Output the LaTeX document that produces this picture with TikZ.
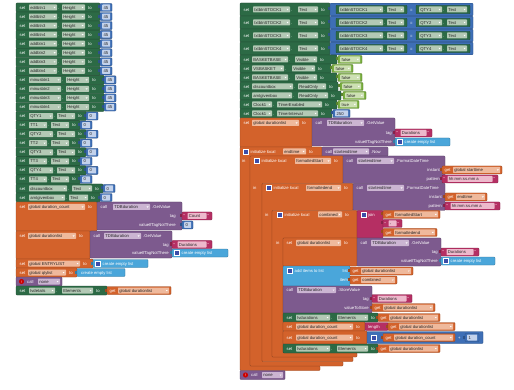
\documentclass[tikz,border=0pt]{standalone}
\usepackage{fontspec}
\setmainfont{Liberation Sans}
\definecolor{cg}{HTML}{2C6A45}
\definecolor{cgf}{HTML}{B3C9B5}
\definecolor{vo}{HTML}{D3622B}
\definecolor{vof}{HTML}{EFB99C}
\definecolor{pp}{HTML}{7D5A8E}
\definecolor{ppf}{HTML}{CBB5D2}
\definecolor{pk}{HTML}{B52F63}
\definecolor{pkf}{HTML}{EDB9CC}
\definecolor{mb}{HTML}{3E6FB6}
\definecolor{mbf}{HTML}{C3D2EB}
\definecolor{lb}{HTML}{4AA6DA}
\definecolor{lg}{HTML}{79AE3F}
\definecolor{lgf}{HTML}{CDE0B4}
\definecolor{ic}{HTML}{3C4DA8}
\newcommand\zfont{\fontsize{4.2}{4.2}\selectfont}
\tikzset{
 lbl/.style={text=white,font=\zfont,inner sep=0pt,anchor=west,text height=3.1pt,text depth=0pt},
 ftx/.style={text=black!85,font=\zfont,inner sep=0pt,anchor=west,text height=3.1pt,text depth=0pt}}
\def\zh{4.5}
% block
\newcommand\ZB[5]{\filldraw[fill=#1,draw=#1!70!black,line width=0.3pt,rounded corners=0.8pt] (#2,#3) rectangle (#4,#5);}
% labels
\newcommand\ZL[3]{\node[lbl] at (#1,#2) {#3};}
\newcommand\ZR[3]{\node[lbl,anchor=east] at (#1,#2) {#3};}
% fields
\newcommand\ZF[5]{\fill[#1,rounded corners=0.6pt] (#2,#4-3) rectangle (#3,#4+3);\node[ftx] at (#2+1.2,#4) {#5};\fill[white] (#3-3.4,#4-0.5) -- (#3-1.4,#4-0.5) -- (#3-2.4,#4+0.7) -- cycle;}
\newcommand\ZFn[5]{\fill[#1,rounded corners=0.6pt] (#2,#4-3) rectangle (#3,#4+3);\node[ftx] at (#2+1.2,#4) {#5};}
% icon
\newcommand\ZIc[2]{\filldraw[fill=ic,draw=white,line width=0.35pt] (#1,#2-2.4) rectangle (#1+4.8,#2+2.4);}
% green setter: y, x0, xend, c1, c2, ctext, p1, p2, ptext
\newcommand\ZG[9]{\ZB{cg}{#2}{#1-\zh}{#3}{#1+\zh}\ZL{#2+3.5}{#1}{set}\ZF{cgf}{#4}{#5}{#1}{#6}\ZL{#5+1}{#1}{.}\ZF{cgf}{#7}{#8}{#1}{#9}\ZL{#8+3}{#1}{to}}
% orange setter: y1,y2,x0,xend,f1,f2,ftext,yc
\newcommand\ZO[8]{\ZB{vo}{#3}{#1}{#4}{#2}\ZL{#3+3.5}{#8}{set}\ZF{vof}{#5}{#6}{#8}{#7}\ZL{#6+3}{#8}{to}}
% purple call: y1,y2,x0,xend,f1,f2,ftext,method,yc
\newcommand\ZP[9]{\ZB{pp}{#3}{#1}{#4}{#2}\ZL{#3+3.5}{#9}{call}\ZF{ppf}{#5}{#6}{#9}{#7}\ZL{#6+2}{#9}{#8}}
% initialize C shape
\newcommand\ZI[8]{\filldraw[fill=vo,draw=vo!70!black,line width=0.3pt,rounded corners=0.8pt] (#1,#3) -- (#2,#3) -- (#2,#4) -- (#5,#4) -- (#5,#6) -- (#7,#6) -- (#7,#8) -- (#1,#8) -- cycle;}
% value blocks
\newcommand\ZN[4]{\fill[mb!75!black] (#1-1.8,#3-2) rectangle (#1+0.5,#3+1);\ZB{mb}{#1}{#3-4}{#2}{#3+4}\ZFn{mbf}{#1+2.2}{#2-1.8}{#3}{#4}}
\newcommand\ZBo[4]{\fill[lg!75!black] (#1-1.8,#3-2) rectangle (#1+0.5,#3+1);\ZB{lg}{#1}{#3-4}{#2}{#3+4}\ZF{lgf}{#1+2.2}{#2-1.8}{#3}{#4}}
\newcommand\ZT[4]{\fill[pk!75!black] (#1-1.8,#3-2) rectangle (#1+0.5,#3+1);\ZB{pk}{#1}{#3-4}{#2}{#3+4}\node[lbl] at (#1+1.3,#3) {“};\ZFn{pkf}{#1+5.5}{#2-5.5}{#3}{#4}\node[lbl] at (#2-4.6,#3) {”};}
\newcommand\ZGet[4]{\fill[vo!75!black] (#1-1.8,#3-2) rectangle (#1+0.5,#3+1);\ZB{vo}{#1}{#3-4}{#2}{#3+4}\ZL{#1+2.5}{#3}{get}\ZF{vof}{#1+11}{#2-1.8}{#3}{#4}}
\newcommand\ZLst[3]{\fill[lb!75!black] (#1-1.8,#3-2) rectangle (#1+0.5,#3+1);\ZB{lb}{#1}{#3-4}{#2}{#3+4}\ZIc{#1+2.5}{#3}\ZL{#1+9.5}{#3}{create empty list}}
\newcommand\ZLstn[3]{\fill[lb!75!black] (#1-1.8,#3-2) rectangle (#1+0.5,#3+1);\ZB{lb}{#1}{#3-4}{#2}{#3+4}\ZL{#1+4}{#3}{create empty list}}
% compare row (right column): y, n
\newcommand\ZCmp[2]{%
 \ZG{#1}{240}{330}{253}{290}{txtbtnSTOCK#2}{298}{318}{Text}
 \fill[mb!75!black] (328.2,#1-2) rectangle (330.5,#1+1);
 \ZB{mb}{330}{#1-6.3}{473}{#1+6.3}
 \ZB{cg}{336}{#1-4.2}{407}{#1+4.2}
 \ZF{cgf}{339}{383}{#1}{txtbtnSTOCK#2}\ZL{384}{#1}{.}\ZF{cgf}{387}{404}{#1}{Text}
 \ZL{410}{#1}{=}
 \ZB{cg}{416}{#1-4.2}{470}{#1+4.2}
 \ZF{cgf}{419}{442}{#1}{QTY#2}\ZL{443}{#1}{.}\ZF{cgf}{447}{467}{#1}{Text}}
\begin{document}
\begin{tikzpicture}[x=1pt,y=-1pt]
\fill[white] (0,0) rectangle (514,390);
\useasboundingbox (0,0) rectangle (514,390);
% ---------------- left column ----------------
\ZG{7.5}{16}{100}{29}{57}{editbtn1}{62}{85}{Height}\ZN{100}{112}{7.5}{45}
\ZG{16.55}{16}{100}{29}{57}{editbtn2}{62}{85}{Height}\ZN{100}{112}{16.55}{45}
\ZG{25.6}{16}{100}{29}{57}{editbtn3}{62}{85}{Height}\ZN{100}{112}{25.6}{45}
\ZG{34.65}{16}{100}{29}{57}{editbtn4}{62}{85}{Height}\ZN{100}{112}{34.65}{45}
\ZG{43.7}{16}{100}{29}{57}{addbtn1}{62}{85}{Height}\ZN{100}{112}{43.7}{45}
\ZG{52.75}{16}{100}{29}{57}{addbtn2}{62}{85}{Height}\ZN{100}{112}{52.75}{45}
\ZG{61.8}{16}{100}{29}{57}{addbtn3}{62}{85}{Height}\ZN{100}{112}{61.8}{45}
\ZG{70.85}{16}{100}{29}{57}{addbtn4}{62}{85}{Height}\ZN{100}{112}{70.85}{45}
\ZG{79.9}{16}{104}{29}{61}{minusbtn1}{66}{89}{Height}\ZN{104}{116}{79.9}{45}
\ZG{88.95}{16}{104}{29}{61}{minusbtn2}{66}{89}{Height}\ZN{104}{116}{88.95}{45}
\ZG{98}{16}{104}{29}{61}{minusbtn3}{66}{89}{Height}\ZN{104}{116}{98}{45}
\ZG{107.05}{16}{104}{29}{61}{minusbtn4}{66}{89}{Height}\ZN{104}{116}{107.05}{45}
\ZG{116.1}{16}{86}{29}{53}{QTY1}{57}{75}{Text}\ZN{86}{98}{116.1}{0}
\ZG{125.15}{16}{80}{29}{47}{TT1}{51}{69}{Text}\ZN{80}{92}{125.15}{0}
\ZG{134.2}{16}{86}{29}{53}{QTY2}{57}{75}{Text}\ZN{86}{98}{134.2}{0}
\ZG{143.25}{16}{80}{29}{47}{TT2}{51}{69}{Text}\ZN{80}{92}{143.25}{0}
\ZG{152.3}{16}{86}{29}{53}{QTY3}{57}{75}{Text}\ZN{86}{98}{152.3}{0}
\ZG{161.35}{16}{80}{29}{47}{TT3}{51}{69}{Text}\ZN{80}{92}{161.35}{0}
\ZG{170.4}{16}{86}{29}{53}{QTY4}{57}{75}{Text}\ZN{86}{98}{170.4}{0}
\ZG{179.45}{16}{80}{29}{47}{TT4}{51}{69}{Text}\ZN{80}{92}{179.45}{0}
\ZG{188.5}{16}{103}{29}{67}{discountbox}{72}{92}{Text}\ZN{103}{115}{188.5}{0}
\ZG{197.55}{16}{100}{29}{65}{amtgivenbox}{69}{88}{Text}\ZN{100}{112}{197.55}{0}
% set global duration_count
\ZO{202}{231}{16}{97}{28}{85}{global duration\_count}{207}
\ZP{202}{230}{97}{182}{113}{150}{TDBduration}{.GetValue}{207}
\ZR{176}{216}{tag}\ZT{182}{212}{216}{Count}
\ZR{176}{225}{valueIfTagNotThere}\ZN{182}{193}{225}{0}
% set global durationlist
\ZO{231}{259}{16}{90}{28}{76}{global durationlist}{236}
\ZP{231}{258}{90}{172}{104}{141}{TDBduration}{.GetValue}{236}
\ZR{169}{244.5}{tag}\ZT{172}{212}{244.5}{Durations}
\ZR{169}{253}{valueIfTagNotThere}\ZLst{172}{228}{253}
% ENTRYLIST / qtylist
\ZO{259}{268}{16}{93}{28}{80}{global ENTRYLIST}{263.5}\ZLst{93}{148}{263.5}
\ZO{268}{277}{16}{77}{28}{66}{global qtylist}{272.5}\ZLstn{77}{125}{272.5}
% call none
\ZB{pp}{16}{277}{62}{286}
\fill[red!80!black] (21.5,281.5) circle (2.6);\node[lbl,anchor=center,font=\fontsize{3.5}{3.5}\selectfont] at (21.5,281.5) {!};
\ZL{27}{281.5}{call}\ZF{ppf}{38}{60}{281.5}{none}
% lvdetails
\ZG{290.5}{16}{107}{29}{55}{lvdetails}{62}{93}{Elements}\ZGet{107}{171}{290.5}{global durationlist}
% ---------------- right column ----------------
\def\zh{6.5}
\ZCmp{9.5}{1}
\ZCmp{22.5}{2}
\ZCmp{35.5}{3}
\ZCmp{48.5}{4}
\def\zh{4.5}
\ZG{59.5}{240}{337}{252}{288}{BASKETBASE}{295}{317}{Visible}\ZBo{338}{362}{59.5}{false}
\ZG{68.5}{240}{331}{252}{284}{VSBASKET}{292}{315}{Visible}\ZBo{332}{353}{68.5}{false}
\ZG{77.5}{240}{337}{252}{288}{BASKETBASE}{295}{317}{Visible}\ZBo{338}{362}{77.5}{false}
\ZG{86.5}{240}{338}{252}{293}{discountbox}{298}{326}{ReadOnly}\ZBo{340}{363}{86.5}{false}
\ZG{95.5}{240}{341}{252}{292}{amtgivenbox}{298}{328}{ReadOnly}\ZBo{343}{366}{95.5}{false}
\ZG{104.5}{240}{337}{252}{272}{Clock1}{277}{322}{TimerEnabled}\ZBo{338}{359}{104.5}{true}
\ZG{113.5}{240}{332}{252}{272}{Clock1}{277}{318}{TimerInterval}\ZN{333}{350}{113.5}{250}
% set global durationlist
\ZO{118}{147}{240}{312}{252}{299}{global durationlist}{123}
\ZP{118}{146}{312}{395}{327}{364}{TDBduration}{.GetValue}{123}
\ZR{392}{133}{tag}\ZT{395}{432}{133}{Durations}
\ZR{392}{142}{valueIfTagNotThere}\ZLst{395}{450}{142}
% initialize endtime
\ZI{240}{322}{147}{156}{250}{366}{320}{370.5}
\ZIc{243}{151.5}\ZL{250.5}{151.5}{initialize local}\ZF{vof}{283}{306}{151.5}{endtime}\ZL{309}{151.5}{to}
\ZP{147}{156}{322}{388}{333}{369}{startendtime}{.Now}{151.5}
\ZL{242}{160.5}{in}
% initialize formattedStart
\ZI{250}{343}{156}{183.5}{262}{361.5}{343}{366}
\ZIc{254}{161}\ZL{261.5}{161}{initialize local}\ZF{vof}{295}{331}{161}{formattedStart}\ZL{334}{161}{to}
\ZP{156}{183.5}{343}{445}{357}{394}{startendtime}{.FormatDateTime}{161}
\ZR{440}{170}{instant}\ZGet{442}{502}{170}{global starttime}
\ZR{440}{179}{pattern}\ZT{442}{498}{179}{hh:mm:ss.mm a}
\ZL{253}{188}{in}
% initialize formattedend
\ZI{262}{353}{183.5}{210.5}{272}{357}{353}{361.5}
\ZIc{266}{188}\ZL{273.5}{188}{initialize local}\ZF{vof}{306}{341}{188}{formattedend}\ZL{344}{188}{to}
\ZP{183.5}{210.5}{353}{445}{367}{404}{startendtime}{.FormatDateTime}{188}
\ZR{442}{197}{instant}\ZGet{445}{487}{197}{endtime}
\ZR{442}{206}{pattern}\ZT{445}{500}{206}{hh:mm:ss.mm a}
\ZL{265}{215}{in}
% initialize combined
\ZI{272}{357}{210.5}{238}{283}{352.5}{357}{357}
\ZIc{277}{214.5}\ZL{284.5}{214.5}{initialize local}\ZF{vof}{318}{342}{214.5}{combined}\ZL{345}{214.5}{to}
\ZB{pk}{357}{210.5}{383}{238}
\ZIc{361}{214.5}\ZL{368}{214.5}{join}
\ZGet{383}{440}{214.5}{formattedStart}
\ZT{383}{402}{223.5}{-}
\ZGet{383}{437}{232.5}{formattedend}
\ZL{276}{243}{in}
% statements
\ZO{238}{266}{283}{357}{296}{341}{global durationlist}{243}
\ZP{238}{266}{357}{441}{371}{409}{TDBduration}{.GetValue}{243}
\ZR{438}{252}{tag}\ZT{441}{479}{252}{Durations}
\ZR{438}{261}{valueIfTagNotThere}\ZLst{441}{495}{261}
\ZB{lb}{283}{266}{350}{286}
\ZIc{287}{271}\ZL{294.5}{271}{add items to list}\ZR{348}{271}{list}\ZR{348}{280}{item}
\ZGet{350}{413}{271}{global durationlist}
\ZGet{350}{397}{280}{combined}
\ZP{286}{313}{283}{372}{297}{336}{TDBduration}{.StoreValue}{290}
\ZR{369}{298.5}{tag}\ZT{372}{412}{298.5}{Durations}
\ZR{369}{307.5}{valueToStore}\ZGet{372}{435}{307.5}{global durationlist}
\ZG{317.5}{283}{378}{296}{330}{lvdurations}{337}{368}{Elements}\ZGet{378}{440}{317.5}{global durationlist}
\ZO{322}{331}{283}{365}{296}{353}{global duration\_count}{326.5}
\ZB{pk}{365}{322.5}{388}{330.5}\ZL{368}{326.5}{length}
\ZGet{388}{455}{326.5}{global durationlist}
\ZO{331}{344}{283}{367}{296}{353}{global duration\_count}{337.5}
\ZB{mb}{367}{331.5}{483}{343.5}
\ZIc{371}{337.5}
\ZGet{383}{455}{337.5}{global duration\_count}
\ZL{458}{337.5}{+}
\ZN{465}{479}{337.5}{1}
\ZG{348.5}{283}{378}{296}{330}{lvdurations}{337}{368}{Elements}\ZGet{378}{440}{348.5}{global durationlist}
% call none
\ZB{pp}{240}{370.5}{285}{379.5}
\fill[red!80!black] (245.5,375) circle (2.6);\node[lbl,anchor=center,font=\fontsize{3.5}{3.5}\selectfont] at (245.5,375) {!};
\ZL{251}{375}{call}\ZF{ppf}{262}{283}{375}{none}
\end{tikzpicture}
\end{document}
